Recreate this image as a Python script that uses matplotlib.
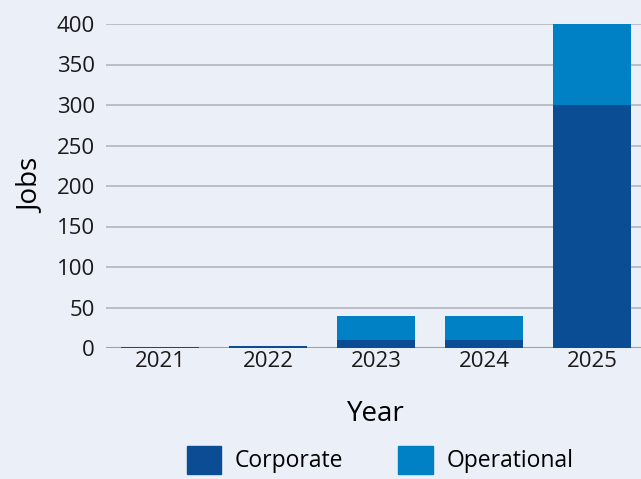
import matplotlib.pyplot as plt
from matplotlib.patches import Patch

# ---- data ----
years = ['2021', '2022', '2023', '2024', '2025']
corporate = [1, 3, 10, 10, 300]
operational = [0, 0, 30, 30, 100]

BG = '#ebeff8'
C_CORP = '#0b4d94'
C_OPER = '#0080c5'

plt.rcParams['font.family'] = ['Open Sans', 'DejaVu Sans']

fig = plt.figure(figsize=(6.41, 4.79), dpi=100, facecolor=BG)
ax = fig.add_axes([106 / 641, 131 / 479, 540 / 641, 324 / 479])
ax.set_facecolor(BG)

x = range(len(years))
ax.bar(x, corporate, width=0.72, color=C_CORP, zorder=3)
ax.bar(x, operational, width=0.72, bottom=corporate, color=C_OPER, zorder=3)

ax.set_ylim(0, 400)
ax.set_xlim(-0.5, 4.5)
ax.set_yticks(range(0, 401, 50))
ax.set_xticks(list(x))
ax.set_xticklabels(years)
ax.tick_params(axis='both', length=0, labelsize=16, colors='#1a1a1a')
ax.tick_params(axis='y', pad=8)
ax.tick_params(axis='x', pad=2)
ax.yaxis.grid(True, color='#b4b6bf', linewidth=1.2, zorder=0)
ax.axhline(0, color='#a0a0a8', linewidth=1.5, zorder=2)
for s in ax.spines.values():
    s.set_visible(False)

ax.set_ylabel('Jobs', fontsize=20, labelpad=8)
ax.set_xlabel('Year', fontsize=20, labelpad=20)

handles = [Patch(color=C_CORP, label='Corporate'), Patch(color=C_OPER, label='Operational')]
fig.legend(handles=handles, loc='lower left', bbox_to_anchor=(166 / 641, -0.032), ncol=2,
           frameon=False, fontsize=16.5, handlelength=1.5, handleheight=1.5,
           columnspacing=2.4, handletextpad=0.6)

fig.savefig('out.png', dpi=100, facecolor=BG)
